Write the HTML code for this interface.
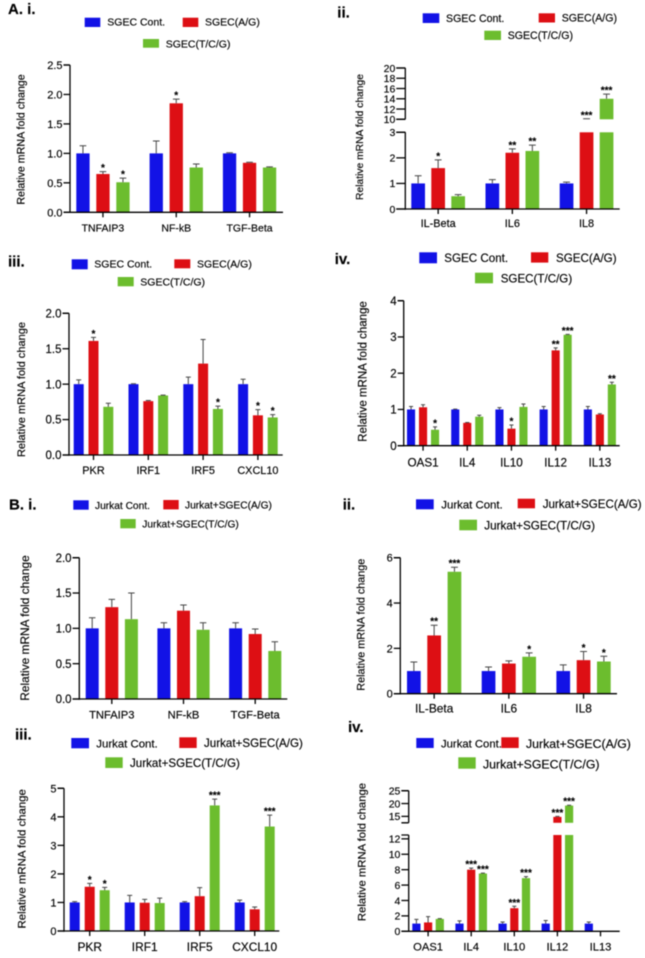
<!DOCTYPE html>
<html lang="en">
<head>
<meta charset="utf-8">
<title>Relative mRNA fold change panels</title>
<style>
html,body{margin:0;padding:0;background:#fff;width:645px;height:958px;overflow:hidden}
svg{display:block;filter:blur(0.4px)}
text{font-family:"Liberation Sans",Arial,sans-serif;fill:#000;stroke:#000;stroke-width:0.15px}
.panel-label{font-weight:bold;font-size:15px;fill:#000}
</style>
</head>
<body>
<svg id="figure" xmlns="http://www.w3.org/2000/svg" width="645" height="958" viewBox="0 0 645 958">
<rect width="645" height="958" fill="#fff"/>
<text class="panel-label" x="8" y="14">A. i.</text>
<text class="panel-label" x="337.3" y="17.3">ii.</text>
<text class="panel-label" x="8" y="266.7">iii.</text>
<text class="panel-label" x="334.7" y="264">iv.</text>
<text class="panel-label" x="9" y="509.3">B. i.</text>
<text class="panel-label" x="342.7" y="509.3">ii.</text>
<text class="panel-label" x="15" y="739.7">iii.</text>
<text class="panel-label" x="348" y="732">iv.</text>
</svg>
<script>
// ---------- chart data ----------
const yTitle = 'Relative mRNA fold change';
const sgecLegend = ['SGEC Cont.', 'SGEC(A/G)', 'SGEC(T/C/G)'];
const jurkatLegend = ['Jurkat Cont.', 'Jurkat+SGEC(A/G)', 'Jurkat+SGEC(T/C/G)'];

// A. i.
const aiCategories = ['TNFAIP3', 'NF-kB', 'TGF-Beta'];
const aiTicks = ['0.0', '0.5', '1.0', '1.5', '2.0', '2.5'];
const aiControl = [1, 1, 1];
const aiControlErr = [0.13, 0.21, 0.01];
const aiAG = [0.65, 1.85, 0.84];
const aiAGErr = [0.04, 0.07, 0.01];
const aiTCG = [0.51, 0.76, 0.76];
const aiTCGErr = [0.07, 0.06, 0.01];
const aiAGStars = ['*', '*', ''];
const aiTCGStars = ['*', '', ''];

// A. ii.
const aiiCategories = ['IL-Beta', 'IL6', 'IL8'];
const aiiTicks = ['0', '1', '2', '3', '10', '12', '14', '16', '18', '20'];
const aiiControl = [1, 1, 1];
const aiiControlErr = [0.3, 0.15, 0.05];
const aiiAG = [1.6, 2.2, 10];
const aiiAGErr = [0.32, 0.15, 0.1];
const aiiTCG = [0.5, 2.27, 14];
const aiiTCGErr = [0.06, 0.23, 0.9];
const aiiAGStars = ['*', '**', '***'];
const aiiTCGStars = ['', '**', '***'];

// A. iii.
const aiiiCategories = ['PKR', 'IRF1', 'IRF5', 'CXCL10'];
const aiiiTicks = ['0.0', '0.5', '1.0', '1.5', '2.0'];
const aiiiControl = [1, 1, 1, 1];
const aiiiControlErr = [0.06, 0.005, 0.1, 0.07];
const aiiiAG = [1.61, 0.76, 1.29, 0.56];
const aiiiAGErr = [0.05, 0.01, 0.34, 0.08];
const aiiiTCG = [0.68, 0.84, 0.65, 0.53];
const aiiiTCGErr = [0.05, 0.005, 0.04, 0.04];
const aiiiAGStars = ['*', '', '', '*'];
const aiiiTCGStars = ['', '', '*', '*'];

// A. iv.
const aivCategories = ['OAS1', 'IL4', 'IL10', 'IL12', 'IL13'];
const aivTicks = ['0', '1', '2', '3', '4'];
const aivControl = [1, 1, 1, 1, 1];
const aivControlErr = [0.08, 0.01, 0.05, 0.08, 0.08];
const aivAG = [1.06, 0.63, 0.47, 2.63, 0.86];
const aivAGErr = [0.07, 0.01, 0.1, 0.07, 0.02];
const aivTCG = [0.44, 0.8, 1.07, 3.06, 1.69];
const aivTCGErr = [0.08, 0.04, 0.08, 0.01, 0.06];
const aivAGStars = ['', '', '*', '**', ''];
const aivTCGStars = ['*', '', '', '***', '**'];

// B. i.
const biCategories = ['TNFAIP3', 'NF-kB', 'TGF-Beta'];
const biTicks = ['0.0', '0.5', '1.0', '1.5', '2.0'];
const biControl = [1, 1, 1];
const biControlErr = [0.15, 0.08, 0.08];
const biAG = [1.3, 1.25, 0.92];
const biAGErr = [0.11, 0.08, 0.07];
const biTCG = [1.13, 0.98, 0.68];
const biTCGErr = [0.37, 0.1, 0.13];
const biAGStars = ['', '', ''];
const biTCGStars = ['', '', ''];

// B. ii.
const biiCategories = ['IL-Beta', 'IL6', 'IL8'];
const biiTicks = ['0', '2', '4', '6'];
const biiControl = [1, 1, 1];
const biiControlErr = [0.4, 0.18, 0.27];
const biiAG = [2.57, 1.33, 1.48];
const biiAGErr = [0.45, 0.12, 0.38];
const biiTCG = [5.38, 1.63, 1.42];
const biiTCGErr = [0.2, 0.17, 0.23];
const biiAGStars = ['**', '', '*'];
const biiTCGStars = ['***', '*', '*'];

// B. iii.
const biiiCategories = ['PKR', 'IRF1', 'IRF5', 'CXCL10'];
const biiiTicks = ['0', '1', '2', '3', '4', '5'];
const biiiControl = [1, 1, 1, 1];
const biiiControlErr = [0.03, 0.25, 0.03, 0.08];
const biiiAG = [1.55, 0.99, 1.22, 0.76];
const biiiAGErr = [0.12, 0.12, 0.3, 0.08];
const biiiTCG = [1.43, 0.98, 4.4, 3.66];
const biiiTCGErr = [0.1, 0.17, 0.22, 0.4];
const biiiAGStars = ['*', '', '', ''];
const biiiTCGStars = ['*', '', '***', '***'];

// B. iv.
const bivCategories = ['OAS1', 'IL4', 'IL10', 'IL12', 'IL13'];
const bivTicks = ['0', '2', '4', '6', '8', '10', '12', '15', '20', '25'];
const bivControl = [1, 1, 1, 1, 1];
const bivControlErr = [0.55, 0.35, 0.2, 0.4, 0.2];
const bivAG = [1.15, 8, 3, 14.8, 0];
const bivAGErr = [0.75, 0.2, 0.25, 0.2, 0];
const bivTCG = [1.6, 7.5, 6.9, 19.2, 0];
const bivTCGErr = [0.05, 0.05, 0.2, 0.15, 0];
const bivAGStars = ['', '***', '***', '***', ''];
const bivTCGStars = ['', '***', '***', '***', ''];

// ---------- drawing ----------
const NS = 'http://www.w3.org/2000/svg';
const root = document.getElementById('figure');
const seriesColors = ['#1212e6', '#dd0f14', '#6cbd2e'];
const seriesSlugs = ['control', 'a-g', 't-c-g'];

function mk(tag, attrs, parent) {
  const el = document.createElementNS(NS, tag);
  for (const k in attrs) el.setAttribute(k, attrs[k]);
  parent.appendChild(el);
  return el;
}

function drawPanel(id, frame, categories, tickLabels, values, errors, stars, legendLabels) {
  const g = mk('g', {}, root);
  
  

  // axis function (piecewise for broken axes)
  const segs = frame.segments;
  function segY(s, v) { return s.y0 + (v - s.min) * (s.y1 - s.y0) / (s.max - s.min); }
  function yScale(v) {
    for (const s of segs) { if (v <= s.max) return v < s.min ? s.y0 : segY(s, v); }
    const last = segs[segs.length - 1];
    return segY(last, v);
  }
  function barX(c, k) { return frame.x0 + c * frame.groupStep + k * frame.step; }
  function groupCenter(c) { return barX(c, 1) + frame.barW / 2; }

  // legend
  legendLabels.forEach(function (label, k) {
    const L = frame.legend[k];
    const entry = mk('g', {}, g);
    
    
    const sw = mk('rect', {x: L[0], y: L[1], width: L[2], height: L[3], fill: seriesColors[k]}, entry);
    
    
    const tx = mk('text', {x: L[4], y: L[5] + L[6] * 0.35, 'font-size': L[6]}, entry);
    
    
    tx.textContent = label;
  });

  // y title
  const title = mk('text', {
    x: 0, y: 0, 'font-size': frame.titleSize, 'text-anchor': 'middle',
    transform: 'translate(' + frame.titleX + ',' + frame.titleY + ') rotate(-90)',
    'dominant-baseline': 'central'
  }, g);
  
  
  title.textContent = yTitle;

  // bars + error bars + stars
  values.forEach(function (series, k) {
    series.forEach(function (v, c) {
      const x = barX(c, k);
      const w = frame.barW;
      const top = v + errors[k][c];
      segs.forEach(function (s) {
        if (v > s.min) {
          const yTop = segY(s, Math.min(v, s.max));
          const bar = mk('rect', {x: x, y: yTop, width: w, height: s.y0 - yTop, fill: seriesColors[k]}, g);
          
          
        }
      });
      if (v > 0) {
        const cx = x + w / 2;
        const capHalf = w * 0.25;
        const err = mk('path', {
          d: 'M' + cx + ' ' + yScale(v) + 'V' + yScale(top) + 'M' + (cx - capHalf) + ' ' + yScale(top) + 'H' + (cx + capHalf),
          stroke: '#444', 'stroke-width': 1, fill: 'none'
        }, g);
        
        
      }
      const starText = stars[k] ? stars[k][c] : '';
      if (starText) {
        const st = mk('text', {
          x: x + w / 2, y: yScale(top) - 0.5, 'font-size': 10, 'font-weight': 'bold',
          'text-anchor': 'middle'
        }, g);
        
        
        st.textContent = starText;
      }
    });
  });

  // y axis segments and break-end ticks
  segs.forEach(function (s) {
    const d = 'M' + frame.axisX + ' ' + (s.y0 + (s.min === 0 ? 0.7 : 0)) + 'V' + s.y1 +
      'M' + (frame.axisX - frame.tickLen) + ' ' + s.y1 + 'H' + frame.axisX +
      (s.min > 0 ? 'M' + (frame.axisX - frame.tickLen) + ' ' + s.y0 + 'H' + frame.axisX : '');
    const ax = mk('path', {d: d, stroke: '#000', 'stroke-width': 1.3, fill: 'none'}, g);
    
    
  });

  // y ticks
  tickLabels.forEach(function (label) {
    const v = parseFloat(label);
    const y = yScale(v);
    const t = mk('line', {x1: frame.axisX - frame.tickLen, x2: frame.axisX, y1: y, y2: y, stroke: '#000', 'stroke-width': 1.3}, g);
    
    
    const lb = mk('text', {
      x: frame.axisX - frame.tickLen - 1, y: y + frame.tickSize * 0.36,
      'font-size': frame.tickSize, 'text-anchor': 'end'
    }, g);
    
    
    lb.textContent = label;
  });

  // x axis
  const baseY = yScale(0);
  const xa = mk('line', {x1: frame.axisX - frame.tickLen, x2: frame.axisEnd, y1: baseY, y2: baseY, stroke: '#000', 'stroke-width': 1.3}, g);
  
  

  categories.forEach(function (cat, c) {
    const cx = groupCenter(c);
    const t = mk('line', {x1: cx, x2: cx, y1: baseY, y2: baseY + 5, stroke: '#000', 'stroke-width': 1.3}, g);
    
    
    const lb = mk('text', {
      x: cx, y: frame.labelCy + frame.labelSize * 0.36,
      'font-size': frame.labelSize, 'text-anchor': 'middle'
    }, g);
    
    
    lb.textContent = cat;
  });
}

// ---------- panel frames (layout only) ----------
const frameAi = {axisX: 70, axisEnd: 283, x0: 76.3, barW: 13.3, step: 20, groupStep: 73.3, tickLen: 6.5, tickSize: 11, labelSize: 10.5, labelCy: 227.7,
  titleX: 21.7, titleY: 139.5, titleSize: 10.67,
  segments: [{min: 0, max: 2.5, y0: 212.3, y1: 65}],
  legend: [[84.7, 17.7, 15.6, 9.3, 107.3, 22, 10.5], [182.7, 17.7, 15.6, 9.3, 205, 22, 10.5], [143, 39, 16, 8.7, 165.7, 43.7, 10.5]]};
const frameAii = {axisX: 405.3, axisEnd: 619.7, x0: 411.3, barW: 13.7, step: 20, groupStep: 74.2, tickLen: 9, tickSize: 10.5, labelSize: 10.9, labelCy: 223,
  titleX: 360.3, titleY: 137, titleSize: 10.3,
  segments: [{min: 0, max: 3, y0: 209, y1: 132.3}, {min: 10, max: 20, y0: 119.3, y1: 68}],
  legend: [[422.7, 13.3, 16.6, 9.7, 446, 18.3, 10.6], [538.7, 13.3, 16.3, 9.2, 561.7, 18, 10.6], [484.3, 30.7, 16.7, 9.3, 507.7, 35.3, 10.6]]};
const frameAiii = {axisX: 69, axisEnd: 282.7, x0: 73.7, barW: 10, step: 14.8, groupStep: 54.8, tickLen: 6.5, tickSize: 11.5, labelSize: 10.9, labelCy: 470,
  titleX: 22, titleY: 389.5, titleSize: 11.05,
  segments: [{min: 0, max: 2, y0: 455, y1: 313.3}],
  legend: [[71.7, 259.3, 16, 10, 94.3, 264, 10.5], [174.3, 259.3, 16, 9, 197, 264, 10.5], [117.7, 277, 16, 9.3, 140.3, 281.7, 10.5]]};
const frameAiv = {axisX: 403.7, axisEnd: 619.7, x0: 407, barW: 8.1, step: 12, groupStep: 44.2, tickLen: 6, tickSize: 11.5, labelSize: 11.7, labelCy: 462.3,
  titleX: 363.7, titleY: 371.5, titleSize: 11.5,
  segments: [{min: 0, max: 4, y0: 445.7, y1: 300.7}],
  legend: [[419.3, 252.3, 17.7, 11, 444.3, 258, 11.6], [531, 252.3, 17.3, 10.3, 556, 257.7, 11.6], [475, 272.7, 18, 10.6, 500.7, 278.3, 11.6]]};
const frameBi = {axisX: 79.3, axisEnd: 287.3, x0: 85.7, barW: 13, step: 19.6, groupStep: 71.7, tickLen: 6.7, tickSize: 11.5, labelSize: 11.2, labelCy: 714.3,
  titleX: 25, titleY: 628, titleSize: 11.9,
  segments: [{min: 0, max: 2, y0: 699, y1: 557.7}],
  legend: [[73.3, 500.3, 15.4, 9.4, 95, 505.3, 10.2], [163.3, 500, 15.4, 9.4, 185, 505, 10.2], [120.3, 519, 15.4, 9.3, 142.3, 524, 10.2]]};
const frameBii = {axisX: 400.3, axisEnd: 617, x0: 407, barW: 13.7, step: 20.3, groupStep: 74.7, tickLen: 6.5, tickSize: 11, labelSize: 11.9, labelCy: 708,
  titleX: 361.3, titleY: 624.7, titleSize: 10.8,
  segments: [{min: 0, max: 6, y0: 693.7, y1: 557.7}],
  legend: [[416, 499.3, 17.7, 10, 441.3, 504.3, 11.4], [517.7, 498.7, 17.3, 9.6, 542.7, 503.7, 11.6], [459.3, 519.7, 17.7, 10.6, 484.3, 525.3, 11.7]]};
const frameBiii = {axisX: 64, axisEnd: 279.3, x0: 69.7, barW: 10, step: 15, groupStep: 55, tickLen: 6.5, tickSize: 11, labelSize: 11.9, labelCy: 946.7,
  titleX: 22.7, titleY: 858.8, titleSize: 11.4,
  segments: [{min: 0, max: 5, y0: 931, y1: 788.3}],
  legend: [[71.3, 738, 17.7, 10.3, 96.3, 743.7, 11.4], [179.3, 737.3, 17.4, 10.7, 204, 743, 11.6], [105.3, 757.3, 17.4, 10.7, 130, 763, 11.6]]};
const frameBiv = {axisX: 408.7, axisEnd: 619.7, x0: 412.3, barW: 8.2, step: 11.7, groupStep: 43.1, tickLen: 7.3, tickSize: 10.5, labelSize: 11.2, labelCy: 946.7,
  titleX: 362.7, titleY: 852, titleSize: 11.3,
  segments: [{min: 0, max: 12.5, y0: 931.3, y1: 835}, {min: 12.5, max: 25, y0: 822.8, y1: 790.7}],
  legend: [[416.3, 738, 17.4, 10, 441, 743.7, 11.3], [501.3, 737.3, 17.4, 10.7, 526, 743.7, 12.3], [458.3, 757.3, 17.4, 11.4, 483, 764, 12.3]]};

drawPanel('a-i', frameAi, aiCategories, aiTicks, [aiControl, aiAG, aiTCG], [aiControlErr, aiAGErr, aiTCGErr], [null, aiAGStars, aiTCGStars], sgecLegend);
drawPanel('a-ii', frameAii, aiiCategories, aiiTicks, [aiiControl, aiiAG, aiiTCG], [aiiControlErr, aiiAGErr, aiiTCGErr], [null, aiiAGStars, aiiTCGStars], sgecLegend);
drawPanel('a-iii', frameAiii, aiiiCategories, aiiiTicks, [aiiiControl, aiiiAG, aiiiTCG], [aiiiControlErr, aiiiAGErr, aiiiTCGErr], [null, aiiiAGStars, aiiiTCGStars], sgecLegend);
drawPanel('a-iv', frameAiv, aivCategories, aivTicks, [aivControl, aivAG, aivTCG], [aivControlErr, aivAGErr, aivTCGErr], [null, aivAGStars, aivTCGStars], sgecLegend);
drawPanel('b-i', frameBi, biCategories, biTicks, [biControl, biAG, biTCG], [biControlErr, biAGErr, biTCGErr], [null, biAGStars, biTCGStars], jurkatLegend);
drawPanel('b-ii', frameBii, biiCategories, biiTicks, [biiControl, biiAG, biiTCG], [biiControlErr, biiAGErr, biiTCGErr], [null, biiAGStars, biiTCGStars], jurkatLegend);
drawPanel('b-iii', frameBiii, biiiCategories, biiiTicks, [biiiControl, biiiAG, biiiTCG], [biiiControlErr, biiiAGErr, biiiTCGErr], [null, biiiAGStars, biiiTCGStars], jurkatLegend);
drawPanel('b-iv', frameBiv, bivCategories, bivTicks, [bivControl, bivAG, bivTCG], [bivControlErr, bivAGErr, bivTCGErr], [null, bivAGStars, bivTCGStars], jurkatLegend);
</script>
</body>
</html>
